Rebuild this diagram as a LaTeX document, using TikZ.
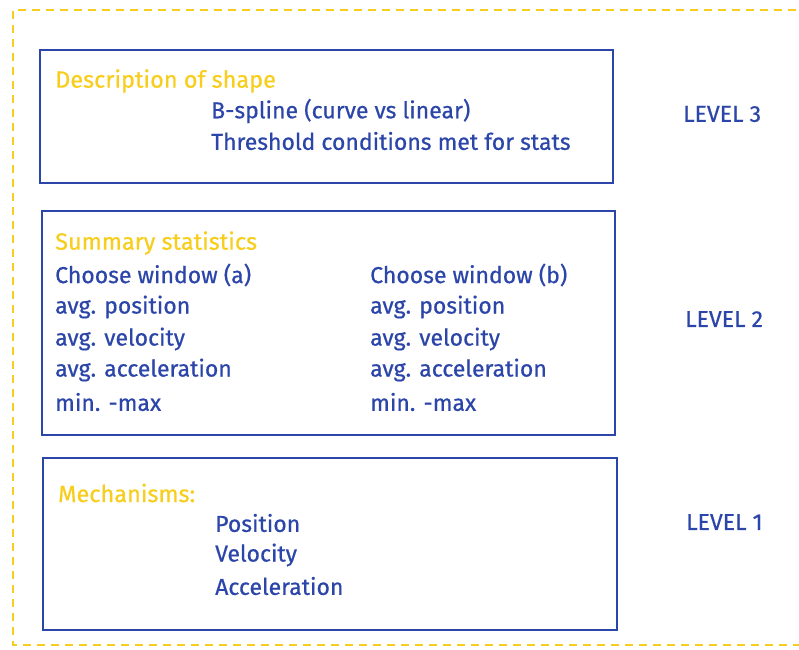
\documentclass[tikz,border=0pt]{standalone}
\usepackage{fontspec}
\setmainfont{Fira Sans}[FakeBold=0.6]
\definecolor{lvlblue}{HTML}{2B45A8}
\definecolor{lvlyellow}{HTML}{F7CE1E}
\begin{document}
\begin{tikzpicture}[x=1pt,y=-1pt,
  panel/.style={draw=lvlblue,line width=1.6pt},
  heading/.style={text=lvlyellow,anchor=west,inner sep=0pt,font=\fontsize{23.5}{27}\selectfont},
  body/.style={text=lvlblue,anchor=west,inner sep=0pt,font=\fontsize{23}{27}\selectfont},
  frame/.style={draw=lvlyellow,line width=1.2pt,dash pattern=on 8pt off 6pt}]
\useasboundingbox (0,0) rectangle (799,649);
% outer dashed frame (right side runs off the page)
\draw[frame] (810,10) -- (13,10) -- (13,645) -- (810,645);
% level boxes
\draw[panel] (40,50) rectangle (613,183);
\draw[panel] (42,211) rectangle (615,435);
\draw[panel] (43,458) rectangle (617,630);
% level 3
\node[heading] (h3) at (55,81) {Description of shape};
\node[body] (b3a) at (211,111) {B-spline (curve vs linear)};
\node[body] (b3b) at (211,141) {Threshold conditions met for stats};
\node[body] (l3) at (683,114) {LEVEL 3};
% level 2
\node[heading] (h2) at (55,243) {Summary statistics};
\node[body] (a1) at (55,275) {Choose window (a)};
\node[body] (a2) at (55,307) {avg. position};
\node[body] (a3) at (55,339) {avg. velocity};
\node[body] (a4) at (55,370) {avg. acceleration};
\node[body] (a5) at (55,402) {min. -max};
\node[body] (c1) at (370,275) {Choose window (b)};
\node[body] (c2) at (370,307) {avg. position};
\node[body] (c3) at (370,339) {avg. velocity};
\node[body] (c4) at (370,370) {avg. acceleration};
\node[body] (c5) at (370,402) {min. -max};
\node[body] (l2) at (685,319) {LEVEL 2};
% level 1
\node[heading] (h1) at (58,493) {Mechanisms:};
\node[body] (m1) at (215,523) {Position};
\node[body] (m2) at (215,555) {Velocity};
\node[body] (m3) at (215,586) {Acceleration};
\node[body] (l1) at (686,522) {LEVEL 1};
\end{tikzpicture}
\end{document}
